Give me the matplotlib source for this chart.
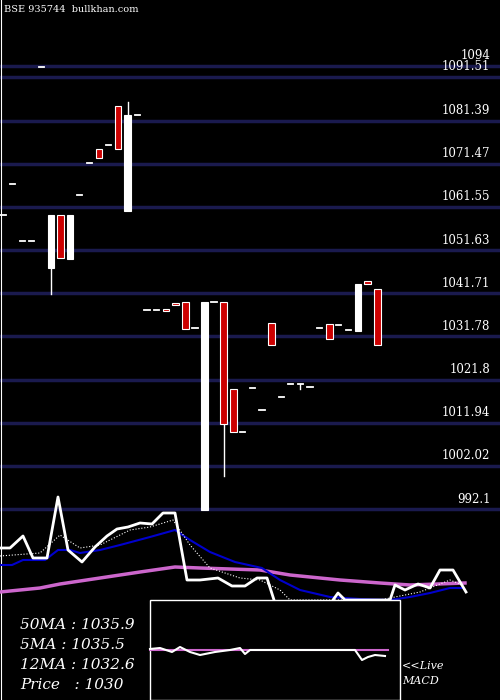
import matplotlib
matplotlib.use("Agg")
import matplotlib.pyplot as plt
from matplotlib.patches import Rectangle

opens  = [1059.7,1066.8,1053.7,1053.7,1093.7,1047.5,1059.7,1049.6,1064.3,1071.6,1074.9,1075.8,1084.7,1060.6,1082.7,
          1037.8,1037.8,1038.1,1039.4,1039.7,1033.7,991.9,1039.7,1039.7,1019.7,1009.8,1019.9,1014.9,1034.9,1017.8,
          1020.8,1020.8,1020.1,1033.7,1034.6,1034.4,1033.2,1033.0,1044.5,1042.7]
closes = [1059.7,1066.8,1053.7,1053.7,1093.7,1059.7,1049.8,1059.7,1064.3,1071.6,1072.8,1075.8,1074.9,1082.7,1082.7,
          1037.8,1037.8,1037.6,1038.9,1033.5,1033.7,1039.7,1039.7,1011.6,1009.8,1009.8,1019.9,1014.9,1029.8,1017.8,
          1020.8,1020.8,1020.1,1033.7,1031.2,1034.4,1033.2,1043.8,1043.8,1029.8]
highs  = [None]*13 + [1085.7] + [None]*26
lows   = [None]*5 + [1041.5] + [None]*17 + [999.7] + [None]*7 + [1019.7] + [None]*8
grid_levels = [1094,1091.51,1081.39,1071.47,1061.55,1051.63,1041.71,1031.78,1021.8,1011.94,1002.02,992.1]

# lower panel indicator traces (x px, y px in panel units)
price_x = [0,10,23,33,47,58,68,82,95,107,117,128,140,152,163,175,187,200,218,232,245,257,267,274,282]
price_y = [548,548,536,558,558,497,550,562,547,536,529,527,523,524,513,513,580,580,578,586,586,578,578,600,640]
price2_x = [325,333,338,345,390,395,405,418,430,440,453,466]
price2_y = [640,600,593,600,600,585,590,584,588,570,570,592]
ma5_x = [0,40,60,80,100,130,150,173,190,210,240,260,280,290,380,420,450,462]
ma5_y = [556,553,535,548,545,530,527,520,545,568,578,580,590,600,600,592,580,585]
ma12_x = [0,12,23,45,58,70,80,100,120,150,175,190,210,235,262,280,300,330,360,390,410,430,450,462]
ma12_y = [565,565,560,560,550,550,553,550,545,537,530,540,552,562,568,580,590,597,599,600,597,593,588,588]
ma50_x = [0,40,60,100,140,175,200,260,290,340,380,410,465]
ma50_y = [592,588,584,578,572,567,568,570,575,580,583,585,583]
macd_x = [150,160,172,180,190,200,215,230,240,245,250,260,300,355,362,368,375,385]
macd_y = [649,648,652,647,652,655,652,650,648,654,650,650,650,650,660,657,655,656]
sig_x = [150,388]
sig_y = [650,650]
info = ["50MA : 1035.9","5MA : 1035.5","12MA : 1032.6","Price   : 1030"]

fig = plt.figure(figsize=(5,7), dpi=100, facecolor='black')
ax = fig.add_axes([0,0,1,1], facecolor='black')
ax.set_xlim(-0.31, 51.8)
ax.set_ylim(992.1-191/4.35, 992.1+509/4.35)
ax.axis('off')
for g in grid_levels:
    ax.axhline(g, color='#1a1a4e', lw=2.5, zorder=1)
    ax.text(50.8, g+0.8, f"{g:g}", color='white', fontsize=8.5, family='DejaVu Serif',
            ha='right', va='bottom', zorder=5)
w = 0.7
dw = 0.55
for i,(o,c) in enumerate(zip(opens,closes)):
    hi, lo = highs[i], lows[i]
    top, bot = max(o,c), min(o,c)
    if hi: ax.plot([i,i],[top,hi],color='white',lw=1,zorder=2)
    if lo: ax.plot([i,i],[lo,bot],color='white',lw=1,zorder=2)
    if abs(o-c) < 0.05:
        ax.plot([i-dw/2,i+dw/2],[o,o],color='white',lw=1.3,zorder=3)
    elif c > o:
        ax.add_patch(Rectangle((i-w/2,bot),w,top-bot,facecolor='white',edgecolor='white',lw=0.8,zorder=3))
    else:
        ax.add_patch(Rectangle((i-w/2,bot),w,top-bot,facecolor='#cc0000',edgecolor='white',lw=0.8,zorder=3))

ax2 = fig.add_axes([0,0,1,1], facecolor='none')
ax2.set_xlim(0,500); ax2.set_ylim(700,0); ax2.axis('off')
ax2.plot([1,1],[0,700],color='white',lw=0.8)
ax2.plot(ma50_x, ma50_y, color='#cc66cc', lw=2.5)
ax2.plot(ma12_x, ma12_y, color='#0000cc', lw=1.5)
ax2.plot(ma5_x, ma5_y, color='white', lw=0.8, ls=':')
ax2.plot(price_x, price_y, color='white', lw=2)
ax2.plot(price2_x, price2_y, color='white', lw=2)
ax2.add_patch(Rectangle((150,600),250,100,facecolor='black',edgecolor='white',lw=1,zorder=4))
ax2.plot(sig_x, sig_y, color='#cc66cc', lw=1.5, zorder=5)
ax2.plot(macd_x, macd_y, color='white', lw=1.5, zorder=6)
for k,t in enumerate(info):
    ax2.text(20, 625+20*k, t, color='white', fontsize=11, family='DejaVu Serif', style='italic', va='center')
ax2.text(402, 666, "<<Live", color='white', fontsize=8, family='DejaVu Serif', style='italic', va='center')
ax2.text(402, 681, "MACD", color='white', fontsize=8, family='DejaVu Serif', style='italic', va='center')
ax2.text(4, 10, "BSE 935744  bullkhan.com", color='white', fontsize=7, family='DejaVu Serif', va='center')
fig.savefig("out.png", dpi=100, facecolor='black')
